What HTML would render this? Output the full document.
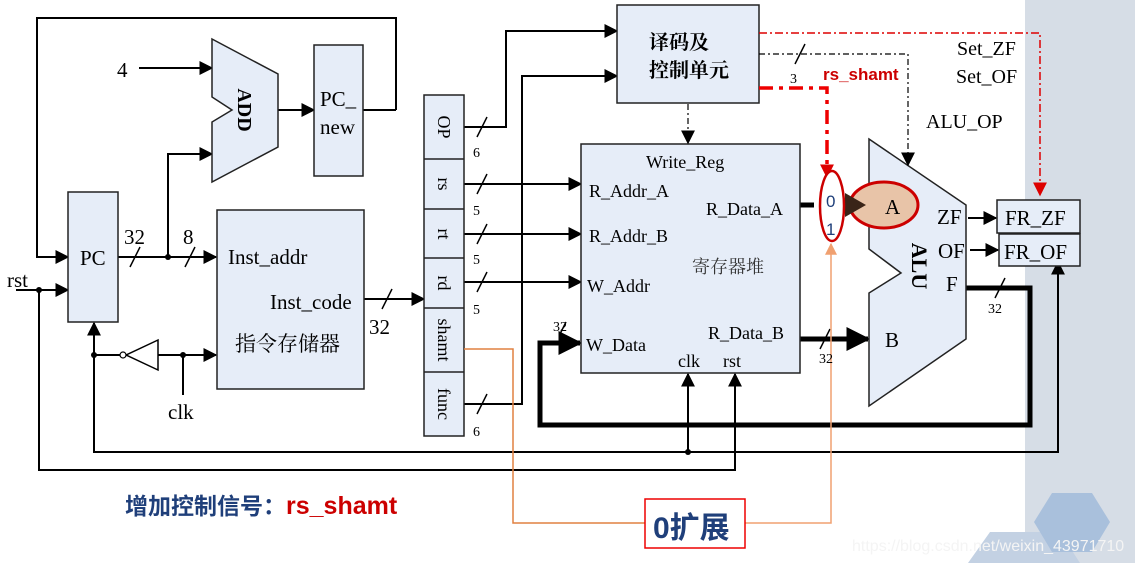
<!DOCTYPE html>
<html><head><meta charset="utf-8"><style>
html,body{margin:0;padding:0;background:#fff}
svg{display:block}
.t{font-family:"Liberation Serif","Noto Serif CJK SC",serif;fill:#000}
</style></head><body>
<svg width="1135" height="563" viewBox="0 0 1135 563" xmlns="http://www.w3.org/2000/svg">
<defs>
<marker id="a" viewBox="0 0 10 10" refX="9" refY="5" markerWidth="14" markerHeight="14" markerUnits="userSpaceOnUse" orient="auto"><path d="M0,0L10,5L0,10z" fill="#000"/></marker>
<marker id="ab" viewBox="0 0 10 10" refX="9" refY="5" markerWidth="24" markerHeight="24" markerUnits="userSpaceOnUse" orient="auto"><path d="M0,0L10,5L0,10z" fill="#000"/></marker>
<marker id="ar" viewBox="0 0 10 10" refX="9" refY="5" markerWidth="14" markerHeight="14" markerUnits="userSpaceOnUse" orient="auto"><path d="M0,0L10,5L0,10z" fill="#d00"/></marker>
<marker id="ao" viewBox="0 0 10 10" refX="9" refY="5" markerWidth="12" markerHeight="12" markerUnits="userSpaceOnUse" orient="auto"><path d="M0,0L10,5L0,10z" fill="#f0a070"/></marker>
</defs>
<rect x="1025" y="0" width="110" height="563" fill="#d6dde6"/>
<polygon points="968,563 990,532 1060,532 1080,563" fill="#c3d1e3"/>
<polygon points="1034,522 1052,493 1092,493 1110,522 1092,552 1052,552" fill="#a9c0dc"/>
<g stroke="#000" stroke-width="2" fill="none">
<polyline points="396,110 396,18 37,18 37,257 68,257" marker-end="url(#a)"/>
<line x1="139" y1="68" x2="212" y2="68" marker-end="url(#a)"/>
<line x1="278" y1="110" x2="314" y2="110" marker-end="url(#a)"/>
<line x1="363" y1="110" x2="396" y2="110"/>
<line x1="118" y1="257" x2="216" y2="257" marker-end="url(#a)"/>
<polyline points="168,257 168,154 212,154" marker-end="url(#a)"/>
<line x1="16" y1="290" x2="68" y2="290" marker-end="url(#a)"/>
<polyline points="39,290 39,470 735,470 735,374" marker-end="url(#a)"/>
<polyline points="94,355 94,452 1058,452 1058,262" marker-end="url(#a)"/>
<line x1="94" y1="355" x2="94" y2="323" marker-end="url(#a)"/>
<line x1="94" y1="355" x2="120" y2="355"/>
<line x1="158" y1="355" x2="216" y2="355" marker-end="url(#a)"/>
<line x1="183" y1="355" x2="183" y2="395"/>
<line x1="688" y1="452" x2="688" y2="374" marker-end="url(#a)"/>
<line x1="364" y1="299" x2="424" y2="299" marker-end="url(#a)"/>
<polyline points="464,127 506,127 506,31 617,31" marker-end="url(#a)"/>
<polyline points="464,404 522,404 522,76 617,76" marker-end="url(#a)"/>
<line x1="464" y1="184" x2="581" y2="184" marker-end="url(#a)"/>
<line x1="464" y1="234" x2="581" y2="234" marker-end="url(#a)"/>
<line x1="464" y1="282" x2="581" y2="282" marker-end="url(#a)"/>
<line x1="968" y1="218" x2="996" y2="218" marker-end="url(#a)"/>
<line x1="970" y1="250" x2="998" y2="250" marker-end="url(#a)"/>
</g>
<g stroke="#000" stroke-width="5" fill="none">
<polyline points="966,288 1030,288 1030,425 540,425 540,343 580,343" marker-end="url(#ab)"/>
<line x1="800" y1="339" x2="868" y2="339" marker-end="url(#ab)"/>
<line x1="800" y1="205" x2="814" y2="205"/>
</g>
<g stroke="#000" stroke-width="1.5">
<line x1="130" y1="267" x2="140" y2="247"/><line x1="185" y1="267" x2="195" y2="247"/>
<line x1="382" y1="309" x2="392" y2="289"/>
<line x1="477" y1="137" x2="487" y2="117"/><line x1="477" y1="194" x2="487" y2="174"/>
<line x1="477" y1="244" x2="487" y2="224"/><line x1="477" y1="292" x2="487" y2="272"/>
<line x1="477" y1="414" x2="487" y2="394"/><line x1="560" y1="334" x2="566" y2="322"/>
<line x1="795" y1="64" x2="805" y2="44"/><line x1="820" y1="349" x2="830" y2="329"/>
<line x1="995" y1="298" x2="1005" y2="278"/>
</g>
<g fill="#000"><circle cx="168" cy="257" r="3"/><circle cx="39" cy="290" r="3"/><circle cx="94" cy="355" r="3"/><circle cx="183" cy="355" r="3"/><circle cx="688" cy="452" r="3"/></g>
<polygon points="158,340 158,370 126,355" fill="#fff" stroke="#000" stroke-width="1.5"/>
<circle cx="123" cy="355" r="3" fill="#fff" stroke="#000" stroke-width="1.2"/>
<g fill="#e6edf8" stroke="#222" stroke-width="1.5">
<polygon points="212,39 278,74 278,147 212,182 212,122 232,110 212,97"/>
<rect x="314" y="45" width="49" height="131"/>
<rect x="68" y="192" width="50" height="130"/>
<rect x="217" y="210" width="147" height="179"/>
<rect x="424" y="95" width="40" height="341"/>
<rect x="617" y="5" width="142" height="98"/>
<rect x="581" y="144" width="219" height="229"/>
<polygon points="869,139 966,205 966,339 869,406 869,293 901,273 869,249"/>
<rect x="997" y="200" width="83" height="33"/>
<rect x="999" y="234" width="81" height="32"/>
</g>
<g stroke="#222" stroke-width="1.5"><line x1="424" y1="159" x2="464" y2="159"/><line x1="424" y1="209" x2="464" y2="209"/><line x1="424" y1="258" x2="464" y2="258"/><line x1="424" y1="308" x2="464" y2="308"/><line x1="424" y1="372" x2="464" y2="372"/></g>
<polyline points="464,349 513,349 513,523 645,523" stroke="#e08040" stroke-width="1.5" fill="none"/>
<polyline points="745,523 831,523 831,244" stroke="#f0a070" stroke-width="1.5" fill="none" marker-end="url(#ao)"/>
<rect x="645" y="499" width="100" height="49" fill="#fff" stroke="#e00" stroke-width="1.5"/>
<polyline points="759,33 1040,33 1040,195" stroke="#d00" stroke-width="1.5" fill="none" stroke-dasharray="8,3,2,3" marker-end="url(#ar)"/>
<polyline points="759,54 908,54 908,165" stroke="#000" stroke-width="1.2" fill="none" stroke-dasharray="6,3,2,3" marker-end="url(#a)"/>
<line x1="688" y1="104" x2="688" y2="143" stroke="#000" stroke-width="1.2" stroke-dasharray="6,3,2,3" marker-end="url(#a)"/>
<polyline points="759,88 827,88 827,177" stroke="#e00" stroke-width="3.5" fill="none" stroke-dasharray="14,6,4,6" marker-end="url(#ar)"/>
<ellipse cx="884" cy="205" rx="34" ry="23" fill="#e8c4a8" stroke="#c00" stroke-width="3"/>
<polygon points="845,193 866,205 845,217" fill="#3a2418"/>
<ellipse cx="832" cy="206" rx="12" ry="35" fill="#fff" stroke="#c00" stroke-width="2.5"/>
<g font-family="Liberation Sans,sans-serif" font-size="17" fill="#1f3f7a"><text x="826" y="207">0</text><text x="826" y="235">1</text></g>
<g class="t" font-size="21">
<text x="117" y="77">4</text>
<text x="320" y="106">PC_</text><text x="320" y="134">new</text>
<text x="80" y="265">PC</text>
<text x="124" y="244">32</text><text x="183" y="244">8</text>
<text x="228" y="264">Inst_addr</text><text x="270" y="309">Inst_code</text>
<text x="235" y="351">指令存储器</text>
<text x="369" y="334">32</text>
<text x="7" y="287">rst</text><text x="168" y="419">clk</text>
<text x="649" y="49" font-weight="bold" font-size="20">译码及</text>
<text x="649" y="77" font-weight="bold" font-size="20">控制单元</text>
<text x="957" y="55" font-size="20">Set_ZF</text><text x="956" y="83" font-size="20">Set_OF</text>
<text x="926" y="128" font-size="20">ALU_OP</text>
<text x="646" y="168" font-size="18">Write_Reg</text>
<text x="589" y="197" font-size="18">R_Addr_A</text><text x="706" y="215" font-size="18">R_Data_A</text>
<text x="589" y="242" font-size="18">R_Addr_B</text><text x="692" y="273" font-size="18" fill="#333">寄存器堆</text>
<text x="587" y="292" font-size="18">W_Addr</text><text x="586" y="351" font-size="18">W_Data</text>
<text x="708" y="339" font-size="18">R_Data_B</text>
<text x="678" y="367" font-size="18">clk</text><text x="723" y="367" font-size="18">rst</text>
<text x="885" y="214">A</text><text x="885" y="347">B</text>
<text x="937" y="224">ZF</text><text x="938" y="258">OF</text><text x="946" y="291">F</text>
<text x="1005" y="225">FR_ZF</text><text x="1004" y="259">FR_OF</text>
</g>
<g class="t" font-size="14">
<text x="473" y="157">6</text><text x="473" y="215">5</text><text x="473" y="264">5</text><text x="473" y="314">5</text><text x="473" y="436">6</text>
<text x="553" y="331">32</text><text x="790" y="83">3</text><text x="819" y="363">32</text><text x="988" y="313">32</text>
</g>
<g class="t" font-size="18">
<text transform="translate(438,127) rotate(90)" text-anchor="middle">OP</text>
<text transform="translate(438,184) rotate(90)" text-anchor="middle">rs</text>
<text transform="translate(438,234) rotate(90)" text-anchor="middle">rt</text>
<text transform="translate(438,283) rotate(90)" text-anchor="middle">rd</text>
<text transform="translate(438,340) rotate(90)" text-anchor="middle">shamt</text>
<text transform="translate(438,404) rotate(90)" text-anchor="middle">func</text>
<text transform="translate(238,110) rotate(90)" text-anchor="middle" font-weight="bold" font-size="20">ADD</text>
<text transform="translate(912,266) rotate(90)" text-anchor="middle" font-weight="bold" font-size="22">ALU</text>
</g>
<text x="823" y="80" font-family="Liberation Sans,sans-serif" font-weight="bold" font-size="17" fill="#c00">rs_shamt</text>
<text x="125" y="514" font-family="Liberation Sans,'Noto Sans CJK SC',sans-serif" font-weight="bold" font-size="23" fill="#1f3f7a">增加控制信号：<tspan fill="#c00" font-size="25">rs_shamt</tspan></text>
<text x="653" y="538" font-family="Liberation Sans,'Noto Sans CJK SC',sans-serif" font-weight="bold" font-size="30" fill="#1f3f7a">0扩展</text>
<text x="852" y="551" font-family="Liberation Sans,sans-serif" font-size="16" fill="#f4f4f4">https://blog.csdn.net/weixin_43971710</text>
</svg>
</body></html>
